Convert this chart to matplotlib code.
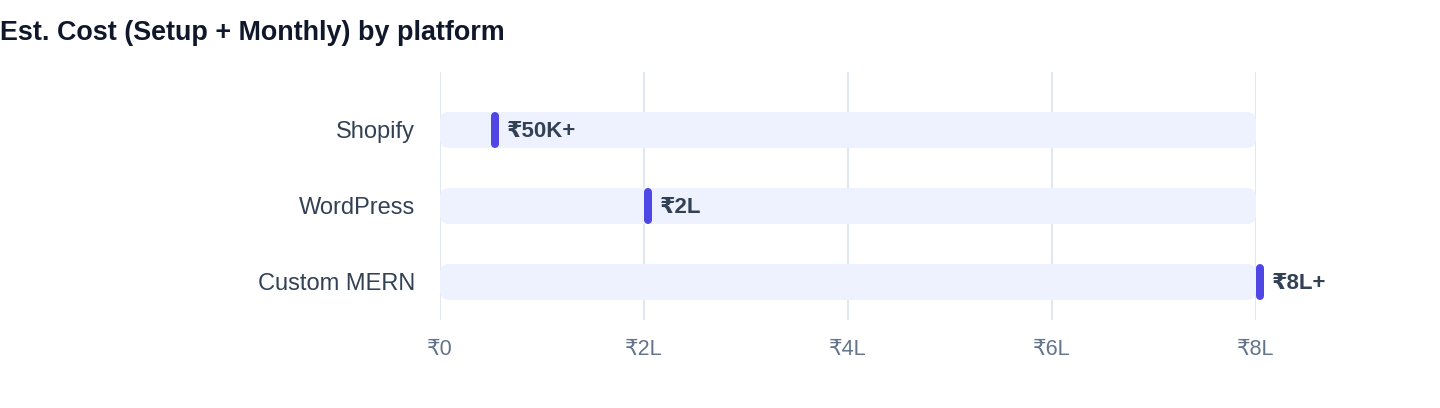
import matplotlib
matplotlib.use('Agg')
import matplotlib.pyplot as plt
from matplotlib.patches import FancyBboxPatch
from matplotlib.transforms import ScaledTranslation

plt.rcParams['font.family'] = ['Liberation Sans', 'DejaVu Sans']

# data (values in lakh rupees)
platforms = ['Shopify', 'WordPress', 'Custom MERN']
costs = [0.5, 2.0, 8.0]
cost_labels = ['₹50K+', '₹2L', '₹8L+']
track_max = 8.0
ticks = [0, 2, 4, 6, 8]
tick_labels = ['₹0', '₹2L', '₹4L', '₹6L', '₹8L']

W, H = 1440, 408
fig = plt.figure(figsize=(W / 100, H / 100), dpi=100)
ax = fig.add_axes([440 / W, (H - 320) / H, (1256 - 440) / W, (320 - 72) / H])

ax.set_xlim(0, 8)
ax.set_ylim(2.5, -0.763)

track_h = 36 / 76.0
px_x = 1 / 102.0  # one pixel in x data units
for i, (name, val, lab) in enumerate(zip(platforms, costs, cost_labels)):
    track = FancyBboxPatch((0, i - track_h / 2), track_max, track_h,
                           boxstyle='round,pad=0,rounding_size=%f' % (9 * px_x),
                           mutation_aspect=102 / 76.0,
                           facecolor='#eef2ff', edgecolor='none', zorder=2)
    ax.add_patch(track)
    off = ax.transData + ScaledTranslation(4 / 100, 0, fig.dpi_scale_trans)
    ax.plot([val, val], [i - track_h / 2 + 4 / 76.0, i + track_h / 2 - 4 / 76.0],
            color='#4f46e5', lw=8 * 0.72, solid_capstyle='round',
            transform=off, zorder=3, clip_on=False)
    ax.annotate(lab, (val, i), xytext=(16 * 0.72, -1.2), textcoords='offset points',
                ha='left', va='center', fontsize=16, fontweight='bold',
                color='#334155', zorder=4, annotation_clip=False)

ax.set_yticks(range(len(platforms)))
ax.set_yticklabels(platforms, fontsize=17, color='#334155')
ax.set_xticks(ticks)
ax.set_xticklabels(tick_labels, fontsize=15.5, color='#64748b')
ax.tick_params(axis='both', length=0)
ax.tick_params(axis='y', pad=18)
ax.tick_params(axis='x', pad=14)
ax.grid(True, axis='x', color='#e2e8f0', lw=1.5, zorder=1)
ax.set_axisbelow(True)
for s in ax.spines.values():
    s.set_visible(False)

fig.text(0, (H - 33) / H, 'Est. Cost (Setup + Monthly) by platform',
         fontsize=19.4, fontweight='bold', color='#0f172a', ha='left', va='center')

fig.savefig('out.png', dpi=100)
